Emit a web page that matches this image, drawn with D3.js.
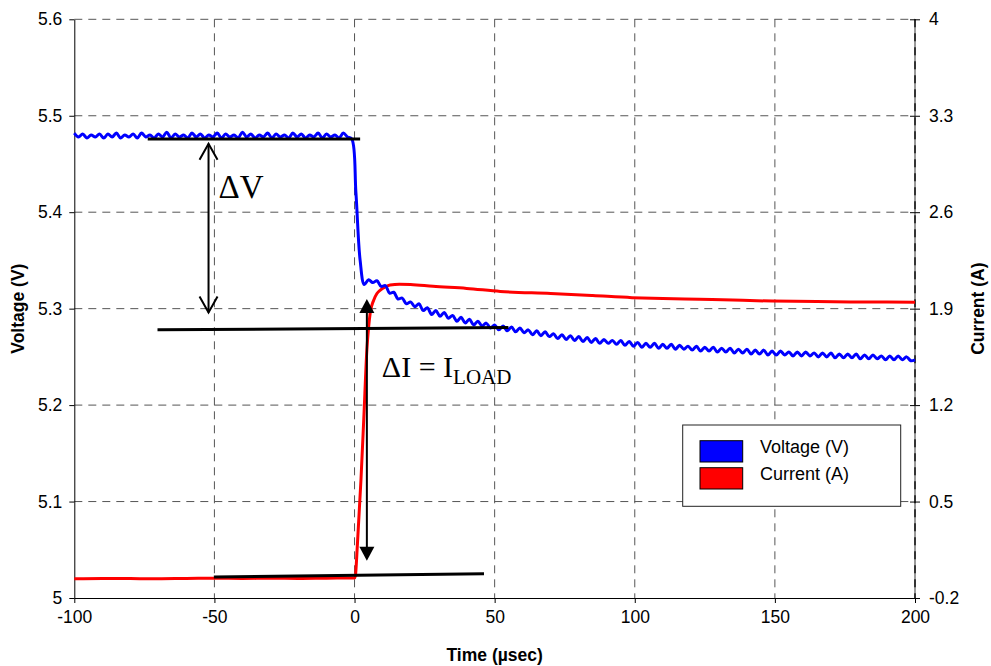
<!DOCTYPE html>
<html>
<head>
<meta charset="utf-8">
<script src="https://d3js.org/d3.v7.min.js"></script>
<style>
  body { margin: 0; background: #fff; }
  svg text { font-family: Arial, "Liberation Sans", sans-serif; fill: #000; }
</style>
</head>
<body>
<div id="chart"></div>
<script>
const timeTicks = [-100, -50, 0, 50, 100, 150, 200];
const voltTicks = [5, 5.1, 5.2, 5.3, 5.4, 5.5, 5.6];
const currTicks = [-0.2, 0.5, 1.2, 1.9, 2.6, 3.3, 4];

// scope record: voltage samples every 1.5 usec starting at -100 usec
const sampleStart = -100;
const sampleStep = 1.5;
const voltage = [
  5.482, 5.478, 5.481, 5.477, 5.480, 5.478, 5.481, 5.477, 5.481, 5.478,
  5.482, 5.477, 5.480, 5.478, 5.481, 5.477, 5.482, 5.478, 5.480, 5.477,
  5.481, 5.478, 5.483, 5.477, 5.481, 5.478, 5.480, 5.477, 5.482, 5.478,
  5.481, 5.477, 5.480, 5.478, 5.482, 5.477, 5.481, 5.478, 5.480, 5.477,
  5.483, 5.478, 5.481, 5.477, 5.480, 5.478, 5.482, 5.477, 5.481, 5.478,
  5.480, 5.477, 5.482, 5.478, 5.481, 5.477, 5.480, 5.478, 5.482, 5.477,
  5.481, 5.478, 5.480, 5.477, 5.482, 5.478, 5.476, 5.420, 5.350, 5.325,
  5.330, 5.327, 5.329, 5.323, 5.324, 5.316, 5.317, 5.310, 5.311, 5.305,
  5.307, 5.302, 5.305, 5.298, 5.301, 5.294, 5.298, 5.292, 5.296, 5.290,
  5.293, 5.287, 5.291, 5.285, 5.289, 5.283, 5.287, 5.282, 5.285, 5.280,
  5.283, 5.278, 5.282, 5.277, 5.281, 5.276, 5.280, 5.275, 5.278, 5.273,
  5.277, 5.272, 5.276, 5.271, 5.274, 5.269, 5.273, 5.268, 5.272, 5.267,
  5.271, 5.266, 5.270, 5.265, 5.269, 5.264, 5.268, 5.264, 5.267, 5.263,
  5.267, 5.262, 5.266, 5.261, 5.265, 5.260, 5.264, 5.260, 5.264, 5.259,
  5.263, 5.259, 5.263, 5.258, 5.262, 5.258, 5.261, 5.257, 5.261, 5.256,
  5.260, 5.256, 5.260, 5.255, 5.259, 5.255, 5.259, 5.254, 5.258, 5.254,
  5.258, 5.253, 5.257, 5.253, 5.257, 5.252, 5.256, 5.252, 5.256, 5.252,
  5.255, 5.251, 5.255, 5.251, 5.255, 5.251, 5.254, 5.250, 5.254, 5.250,
  5.254, 5.249, 5.253, 5.249, 5.253, 5.249, 5.253, 5.248, 5.252, 5.248,
  5.252, 5.248, 5.251, 5.247, 5.251, 5.247, 5.251, 5.247, 5.250, 5.246,
  5.247
];

const currentTime = [-100, -90, -80, -70, -60, -50, -40, -30, -20, -10, -1, 0, 0.3, 1, 2.3, 3.3, 4.4, 5, 5.6, 6.8, 8, 9.2, 11, 12.7, 16, 20, 28, 40, 52, 70, 85, 99, 110, 123, 135, 149, 165, 177, 190, 200];
const current = [-0.060, -0.058, -0.059, -0.060, -0.058, -0.057, -0.058, -0.057, -0.058, -0.056, -0.055, -0.054, -0.04, 0.18, 0.66, 1.10, 1.60, 1.76, 1.87, 1.96, 2.01, 2.035, 2.058, 2.071, 2.077, 2.075, 2.062, 2.047, 2.025, 2.010, 1.995, 1.980, 1.973, 1.968, 1.962, 1.955, 1.951, 1.949, 1.948, 1.946];

// annotation level lines, [time, volts]
const levelLines = [
  [[-73.8, 5.4758], [2.0, 5.4758]],
  [[-70.3, 5.2780], [54.9, 5.2804]],
  [[-50.2, 5.0218], [46.2, 5.0252]]
];
const deltaV = { t: -52.1, top: 5.471, bottom: 5.296 };
const deltaI = { t: 4.4, top: 5.310, bottom: 5.0385 };

const legendNames = ["Voltage (V)", "Current (A)"];
const legendColors = ["#0000ff", "#ff0000"];

const width = 991, height = 666;
const margin = { top: 19.3, right: 76, bottom: 68, left: 74.3 };
const plotW = width - margin.left - margin.right;
const plotH = height - margin.top - margin.bottom;

const svg = d3.select("#chart").append("svg")
    .attr("width", width)
    .attr("height", height);

const g = svg.append("g")
    .attr("transform", `translate(${margin.left},${margin.top})`);

const x = d3.scaleLinear().domain([-100, 200]).range([0, plotW]);
const yV = d3.scaleLinear().domain([5, 5.6]).range([plotH, 0]);
const yI = d3.scaleLinear().domain([-0.2, 4]).range([plotH, 0]);

// grid
g.append("g").selectAll("line")
    .data(voltTicks.filter(d => d > 5))
    .enter().append("line")
    .attr("x1", 0).attr("x2", plotW)
    .attr("y1", d => yV(d)).attr("y2", d => yV(d))
    .attr("stroke", "#555").attr("stroke-width", 1)
    .attr("stroke-dasharray", "8,6");

g.append("g").selectAll("line")
    .data(timeTicks.filter(d => d > -100 && d < 200))
    .enter().append("line")
    .attr("x1", d => x(d)).attr("x2", d => x(d))
    .attr("y1", 0).attr("y2", plotH)
    .attr("stroke", "#555").attr("stroke-width", 1)
    .attr("stroke-dasharray", "8,6");

// right axis line: grey with darker dashes
g.append("line")
    .attr("x1", plotW).attr("x2", plotW).attr("y1", 0).attr("y2", plotH)
    .attr("stroke", "#999").attr("stroke-width", 2);
g.append("line")
    .attr("x1", plotW).attr("x2", plotW).attr("y1", 0).attr("y2", plotH)
    .attr("stroke", "#333").attr("stroke-width", 2)
    .attr("stroke-dasharray", "8,6");

// axes
const fmt = d => String(d);

const leftAxis = g.append("g")
    .call(d3.axisLeft(yV).tickValues(voltTicks).tickFormat(fmt).tickSize(5).tickSizeOuter(0).tickPadding(7));
leftAxis.select(".domain").attr("stroke", "#000");

const bottomAxis = g.append("g")
    .attr("transform", `translate(0,${plotH})`)
    .call(d3.axisBottom(x).tickValues(timeTicks).tickFormat(fmt).tickSize(5).tickSizeOuter(0).tickPadding(8));
bottomAxis.select(".domain").attr("stroke", "#000");

const rightAxis = g.append("g")
    .attr("transform", `translate(${plotW},0)`)
    .call(d3.axisRight(yI).tickValues(currTicks).tickFormat(fmt).tickSize(5).tickSizeOuter(0).tickPadding(9));
rightAxis.select(".domain").remove();
rightAxis.selectAll(".tick line").attr("x1", -5);

[leftAxis, bottomAxis, rightAxis].forEach(a => {
    a.attr("font-family", null).attr("font-size", null);
    a.selectAll("text").style("font-size", "17.5px");
    a.selectAll(".tick line").attr("stroke", "#000");
});

// series
const voltPts = voltage.map((v, i) => [sampleStart + i * sampleStep, v]);
const currPts = current.map((c, i) => [currentTime[i], c]);

g.append("path")
    .datum(currPts)
    .attr("fill", "none")
    .attr("stroke", "#ff0000")
    .attr("stroke-width", 3)
    .attr("d", d3.line().x(d => x(d[0])).y(d => yI(d[1])).curve(d3.curveMonotoneX));

g.append("path")
    .datum(voltPts)
    .attr("fill", "none")
    .attr("stroke", "#0000ff")
    .attr("stroke-width", 3)
    .attr("d", d3.line().x(d => x(d[0])).y(d => yV(d[1])).curve(d3.curveCatmullRom.alpha(0.5)));

// annotation lines
g.append("g").selectAll("line")
    .data(levelLines)
    .enter().append("line")
    .attr("x1", d => x(d[0][0])).attr("y1", d => yV(d[0][1]))
    .attr("x2", d => x(d[1][0])).attr("y2", d => yV(d[1][1]))
    .attr("stroke", "#000").attr("stroke-width", 3);

// delta V arrow, open heads
const dvx = x(deltaV.t), dvTop = yV(deltaV.top), dvBot = yV(deltaV.bottom);
g.append("line")
    .attr("x1", dvx).attr("x2", dvx).attr("y1", dvTop).attr("y2", dvBot)
    .attr("stroke", "#000").attr("stroke-width", 2);
g.append("path")
    .attr("d", `M${dvx - 9},${dvTop + 16}L${dvx},${dvTop}L${dvx + 9},${dvTop + 16}`)
    .attr("fill", "none").attr("stroke", "#000").attr("stroke-width", 2);
g.append("path")
    .attr("d", `M${dvx - 9},${dvBot - 16}L${dvx},${dvBot}L${dvx + 9},${dvBot - 16}`)
    .attr("fill", "none").attr("stroke", "#000").attr("stroke-width", 2);

g.append("text")
    .attr("x", dvx + 10)
    .attr("y", dvTop + 54)
    .style("font-family", "'Liberation Serif', 'Times New Roman', serif")
    .style("font-size", "33px")
    .text("\u0394V");

// delta I arrow, filled heads
const dix = x(deltaI.t), diTop = yV(deltaI.top), diBot = yV(deltaI.bottom);
g.append("line")
    .attr("x1", dix).attr("x2", dix).attr("y1", diTop + 10).attr("y2", diBot - 10)
    .attr("stroke", "#000").attr("stroke-width", 2);
g.append("path")
    .attr("d", `M${dix},${diTop}L${dix + 7.5},${diTop + 14}L${dix - 7.5},${diTop + 14}Z`)
    .attr("fill", "#000");
g.append("path")
    .attr("d", `M${dix},${diBot}L${dix + 7.5},${diBot - 14}L${dix - 7.5},${diBot - 14}Z`)
    .attr("fill", "#000");

const diText = g.append("text")
    .attr("x", dix + 15)
    .attr("y", diTop + 78)
    .style("font-family", "'Liberation Serif', 'Times New Roman', serif")
    .style("font-size", "30px");
diText.append("tspan").text("\u0394I = I");
diText.append("tspan").attr("dy", 7).style("font-size", "21px").text("LOAD");

// legend
const legend = svg.append("g").attr("transform", "translate(682.7,425)");
legend.append("rect")
    .attr("width", 218).attr("height", 81.3)
    .attr("fill", "#fff").attr("stroke", "#222").attr("stroke-width", 1);
const items = legend.selectAll("g.item")
    .data(legendNames)
    .enter().append("g")
    .attr("class", "item")
    .attr("transform", (d, i) => `translate(0,${i * 27})`);
items.append("rect")
    .attr("x", 17.3).attr("y", 15.7)
    .attr("width", 42.7).attr("height", 21.3)
    .attr("fill", (d, i) => legendColors[i])
    .attr("stroke", "#000").attr("stroke-width", 1);
items.append("text")
    .attr("x", 77.3).attr("y", 27.7)
    .style("font-size", "18px")
    .text(d => d);

// axis titles
svg.append("text")
    .attr("transform", `translate(24,${margin.top + plotH / 2}) rotate(-90)`)
    .attr("text-anchor", "middle")
    .style("font-size", "17.5px").style("font-weight", "bold")
    .text("Voltage (V)");

svg.append("text")
    .attr("transform", `translate(984,${margin.top + plotH / 2}) rotate(-90)`)
    .attr("text-anchor", "middle")
    .style("font-size", "17.5px").style("font-weight", "bold")
    .text("Current (A)");

svg.append("text")
    .attr("x", margin.left + x(50))
    .attr("y", 661)
    .attr("text-anchor", "middle")
    .style("font-size", "17.5px").style("font-weight", "bold")
    .text("Time (\u00b5sec)");
</script>
</body>
</html>
